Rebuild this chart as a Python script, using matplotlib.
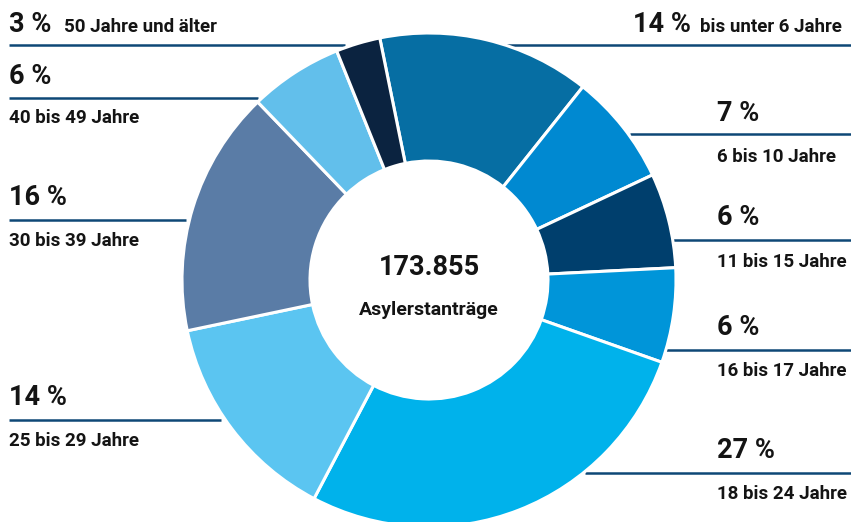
import matplotlib
matplotlib.use("Agg")
import matplotlib.pyplot as plt

# ---- data ----
categories = ["bis unter 6 Jahre", "6 bis 10 Jahre", "11 bis 15 Jahre", "16 bis 17 Jahre",
              "18 bis 24 Jahre", "25 bis 29 Jahre", "30 bis 39 Jahre", "40 bis 49 Jahre",
              "50 Jahre und älter"]
shares = [13.9, 7.3, 6.2, 6.2, 27.3, 14.0, 16.1, 6.1, 2.9]
pct_labels = ["14 %", "7 %", "6 %", "6 %", "27 %", "14 %", "16 %", "6 %", "3 %"]
total_label = "173.855"
total_caption = "Asylerstanträge"

colors = ["#066ea3", "#0089d1", "#003f6d", "#0095d9", "#00b2eb",
          "#5bc5f1", "#5a7ca6", "#62bfeb", "#0b2340"]

W, H = 851, 522
plt.rcParams['font.family'] = ['Roboto', 'DejaVu Sans']
fig = plt.figure(figsize=(W / 100, H / 100), dpi=100)
ax = fig.add_axes([0, 0, 1, 1])

def Y(y):
    return H - y

cx, cy, R, ring = 429, 280, 247, 128
ax.pie(shares, colors=colors, startangle=101.5, counterclock=False,
       radius=R, center=(cx, Y(cy)),
       wedgeprops=dict(width=ring, edgecolor="white", linewidth=2.2))

line_color = "#0e4876"
txt_color = "#141414"
pct_size = 19.5
lab_size = 13.5

# layout for each category: (pct x, pct baseline, label x, label baseline, line y, line x0, line x1)
layout = {
    "50 Jahre und älter": (9, 32, 64, 32, 45, 9, 345),
    "40 bis 49 Jahre": (9, 84, 9, 123, 98, 9, 258),
    "30 bis 39 Jahre": (9, 205, 9, 246, 220, 9, 186),
    "25 bis 29 Jahre": (9, 405, 9, 446, 420, 9, 221),
    "bis unter 6 Jahre": (633, 32, 700, 32, 45, 505, 851),
    "6 bis 10 Jahre": (717, 121, 717, 162, 134, 630, 851),
    "11 bis 15 Jahre": (717, 225, 717, 267, 240, 673, 851),
    "16 bis 17 Jahre": (717, 335, 717, 376, 350, 666, 851),
    "18 bis 24 Jahre": (717, 458, 717, 499, 473, 585, 851),
}

for cat, pct in zip(categories, pct_labels):
    px, py, lx, ly, liny, x0, x1 = layout[cat]
    ax.plot([x0, x1], [Y(liny), Y(liny)], color=line_color, lw=1.8,
            solid_capstyle="butt", zorder=0.5)
    ax.text(px, Y(py), pct, fontsize=pct_size, fontweight="bold", color=txt_color,
            ha="left", va="baseline")
    ax.text(lx, Y(ly), cat, fontsize=lab_size, fontweight="bold", color=txt_color,
            ha="left", va="baseline")

ax.text(cx, Y(275), total_label, fontsize=19.5, fontweight="bold", color=txt_color,
        ha="center", va="baseline")
ax.text(cx, Y(315), total_caption, fontsize=14, fontweight="bold", color=txt_color,
        ha="center", va="baseline")

ax.set_xlim(0, W)
ax.set_ylim(0, H)
ax.set_aspect("equal")
ax.axis("off")
fig.savefig("out.png", dpi=100, facecolor="white")
